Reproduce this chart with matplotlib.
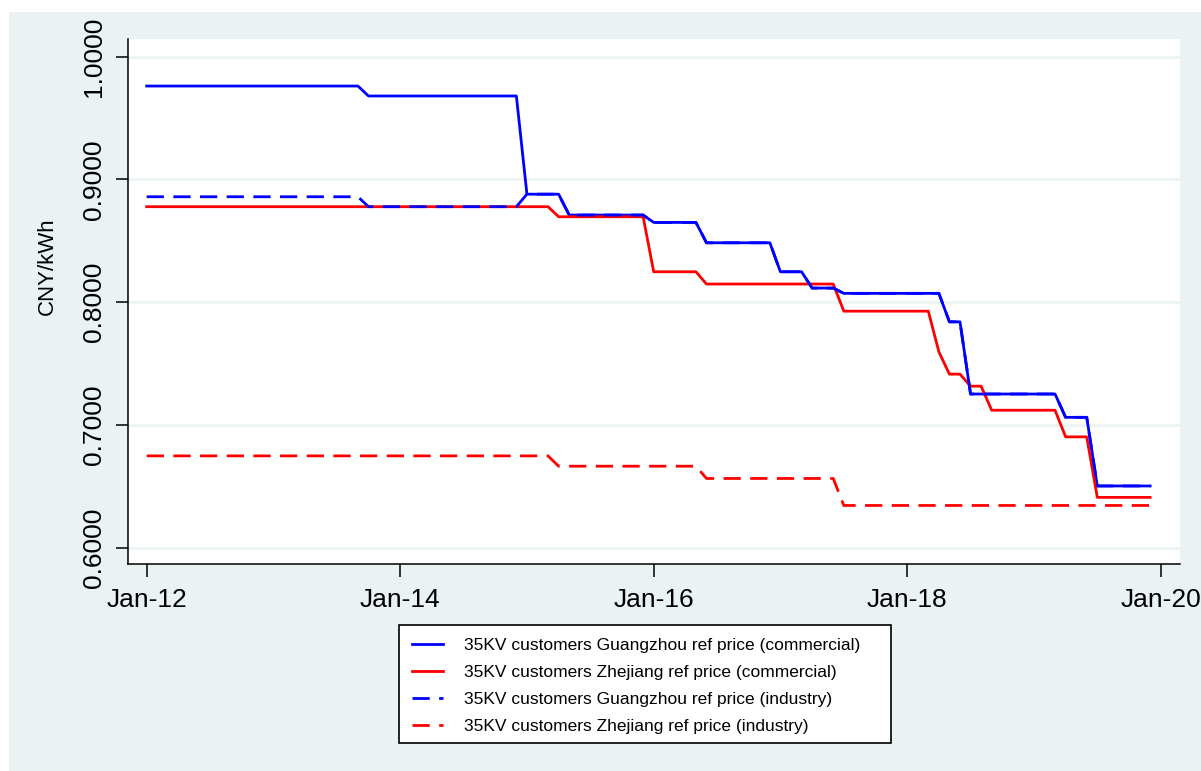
import matplotlib
matplotlib.use("Agg")
import matplotlib.pyplot as plt
from matplotlib.patches import Rectangle

plt.rcParams['font.family'] = ['Liberation Sans', 'DejaVu Sans']

# Month index from Jan-2012 (0) ; breakpoints of monthly series
gz_comm_m = [0, 20, 21, 35, 36, 39, 40, 47, 48, 52, 53, 59, 60, 62, 63, 65, 66, 75, 76, 77, 78, 86, 87, 89, 90, 95]
gz_comm_v = [0.9761, 0.9761, 0.9680, 0.9680, 0.8880, 0.8880, 0.8710, 0.8710, 0.8650, 0.8650,
             0.8484, 0.8484, 0.8248, 0.8248, 0.8115, 0.8115, 0.8072, 0.8072, 0.7840, 0.7840,
             0.7252, 0.7252, 0.7062, 0.7062, 0.6503, 0.6503]

zj_comm_m = [0, 38, 39, 47, 48, 52, 53, 65, 66, 74, 75, 76, 77, 78, 79, 80, 86, 87, 89, 90, 95]
zj_comm_v = [0.8778, 0.8778, 0.8696, 0.8696, 0.8248, 0.8248, 0.8148, 0.8148, 0.7927, 0.7927,
             0.7596, 0.7414, 0.7414, 0.7316, 0.7316, 0.7120, 0.7120, 0.6903, 0.6903, 0.6410, 0.6410]

gz_ind_m = [0, 20, 21, 35, 36, 39, 40, 47, 48, 52, 53, 59, 60, 62, 63, 65, 66, 75, 76, 77, 78, 86, 87, 89, 90, 95]
gz_ind_v = [0.8859, 0.8859, 0.8778, 0.8778, 0.8880, 0.8880, 0.8710, 0.8710, 0.8650, 0.8650,
            0.8484, 0.8484, 0.8248, 0.8248, 0.8115, 0.8115, 0.8072, 0.8072, 0.7840, 0.7840,
            0.7252, 0.7252, 0.7062, 0.7062, 0.6503, 0.6503]

zj_ind_m = [0, 38, 39, 52, 53, 65, 66, 95]
zj_ind_v = [0.6748, 0.6748, 0.6664, 0.6664, 0.6564, 0.6564, 0.6344, 0.6344]

labels = ["35KV customers Guangzhou ref price (commercial)",
          "35KV customers Zhejiang ref price (commercial)",
          "35KV customers Guangzhou ref price (industry)",
          "35KV customers Zhejiang ref price (industry)"]

x_ticks = [0, 24, 48, 72, 96]
x_ticklabels = ["Jan-12", "Jan-14", "Jan-16", "Jan-18", "Jan-20"]
y_ticks = [0.6, 0.7, 0.8, 0.9, 1.0]

BG = "#eaf2f3"
W, H = 1201, 771
fig = plt.figure(figsize=(W / 100, H / 100), dpi=100, facecolor="white")
fig.patches.append(Rectangle((9 / W, 0), 1 - 9 / W, 1 - 12 / H, transform=fig.transFigure,
                             facecolor=BG, edgecolor="none", zorder=-10))
# legend box
fig.patches.append(Rectangle((399 / W, 1 - 743 / H), (891 - 399) / W, (743 - 625) / H,
                             transform=fig.transFigure, facecolor="white",
                             edgecolor="black", linewidth=1.2, zorder=-5))

ax = fig.add_axes([128 / W, 1 - 564 / H, (1180 - 128) / W, (564 - 39) / H])
ax.set_zorder(1)
ax.set_facecolor("white")

lw = 2.0
ax.plot(gz_comm_m, gz_comm_v, color="#0000ff", lw=lw, label=labels[0], zorder=3)
ax.plot(zj_comm_m, zj_comm_v, color="#ff0000", lw=lw, label=labels[1], zorder=3)
ax.plot(gz_ind_m, gz_ind_v, color="#0000ff", lw=lw, linestyle=(0, (6.2, 3.4)), label=labels[2], zorder=3)
ax.plot(zj_ind_m, zj_ind_v, color="#ff0000", lw=lw, linestyle=(0, (6.2, 3.4)), label=labels[3], zorder=3)

ax.set_xlim(-1.77, 97.83)
ax.set_ylim(0.58672, 1.01442)

ax.set_yticks(y_ticks)
ax.set_yticklabels([f"{v:.4f}" for v in y_ticks], rotation=90, va="center", fontsize=19)
ax.set_xticks(x_ticks)
ax.set_xticklabels(x_ticklabels, fontsize=19)
ax.tick_params(axis="both", direction="out", length=9, width=1.1, color="black", pad=8)
ax.tick_params(axis="y", pad=7)

ax.yaxis.grid(True, color=BG, lw=1.8, zorder=0)
ax.set_axisbelow(True)

for s in ["top", "right"]:
    ax.spines[s].set_visible(False)
for s in ["left", "bottom"]:
    ax.spines[s].set_color("black")
    ax.spines[s].set_linewidth(1.1)

ax.set_ylabel("CNY/kWh", fontsize=16)
ax.yaxis.set_label_coords((58 - 128) / 1052, (564 - 266) / 525)

leg = fig.legend(loc="upper left", bbox_to_anchor=(399 / W, 1 - 625 / H),
                 fontsize=12.5, frameon=False,
                 handlelength=1.8, handletextpad=1.2, labelspacing=0.68,
                 borderpad=0.75, borderaxespad=0)
leg.set_zorder(5)

fig.savefig("out.png", dpi=100, facecolor="white")
